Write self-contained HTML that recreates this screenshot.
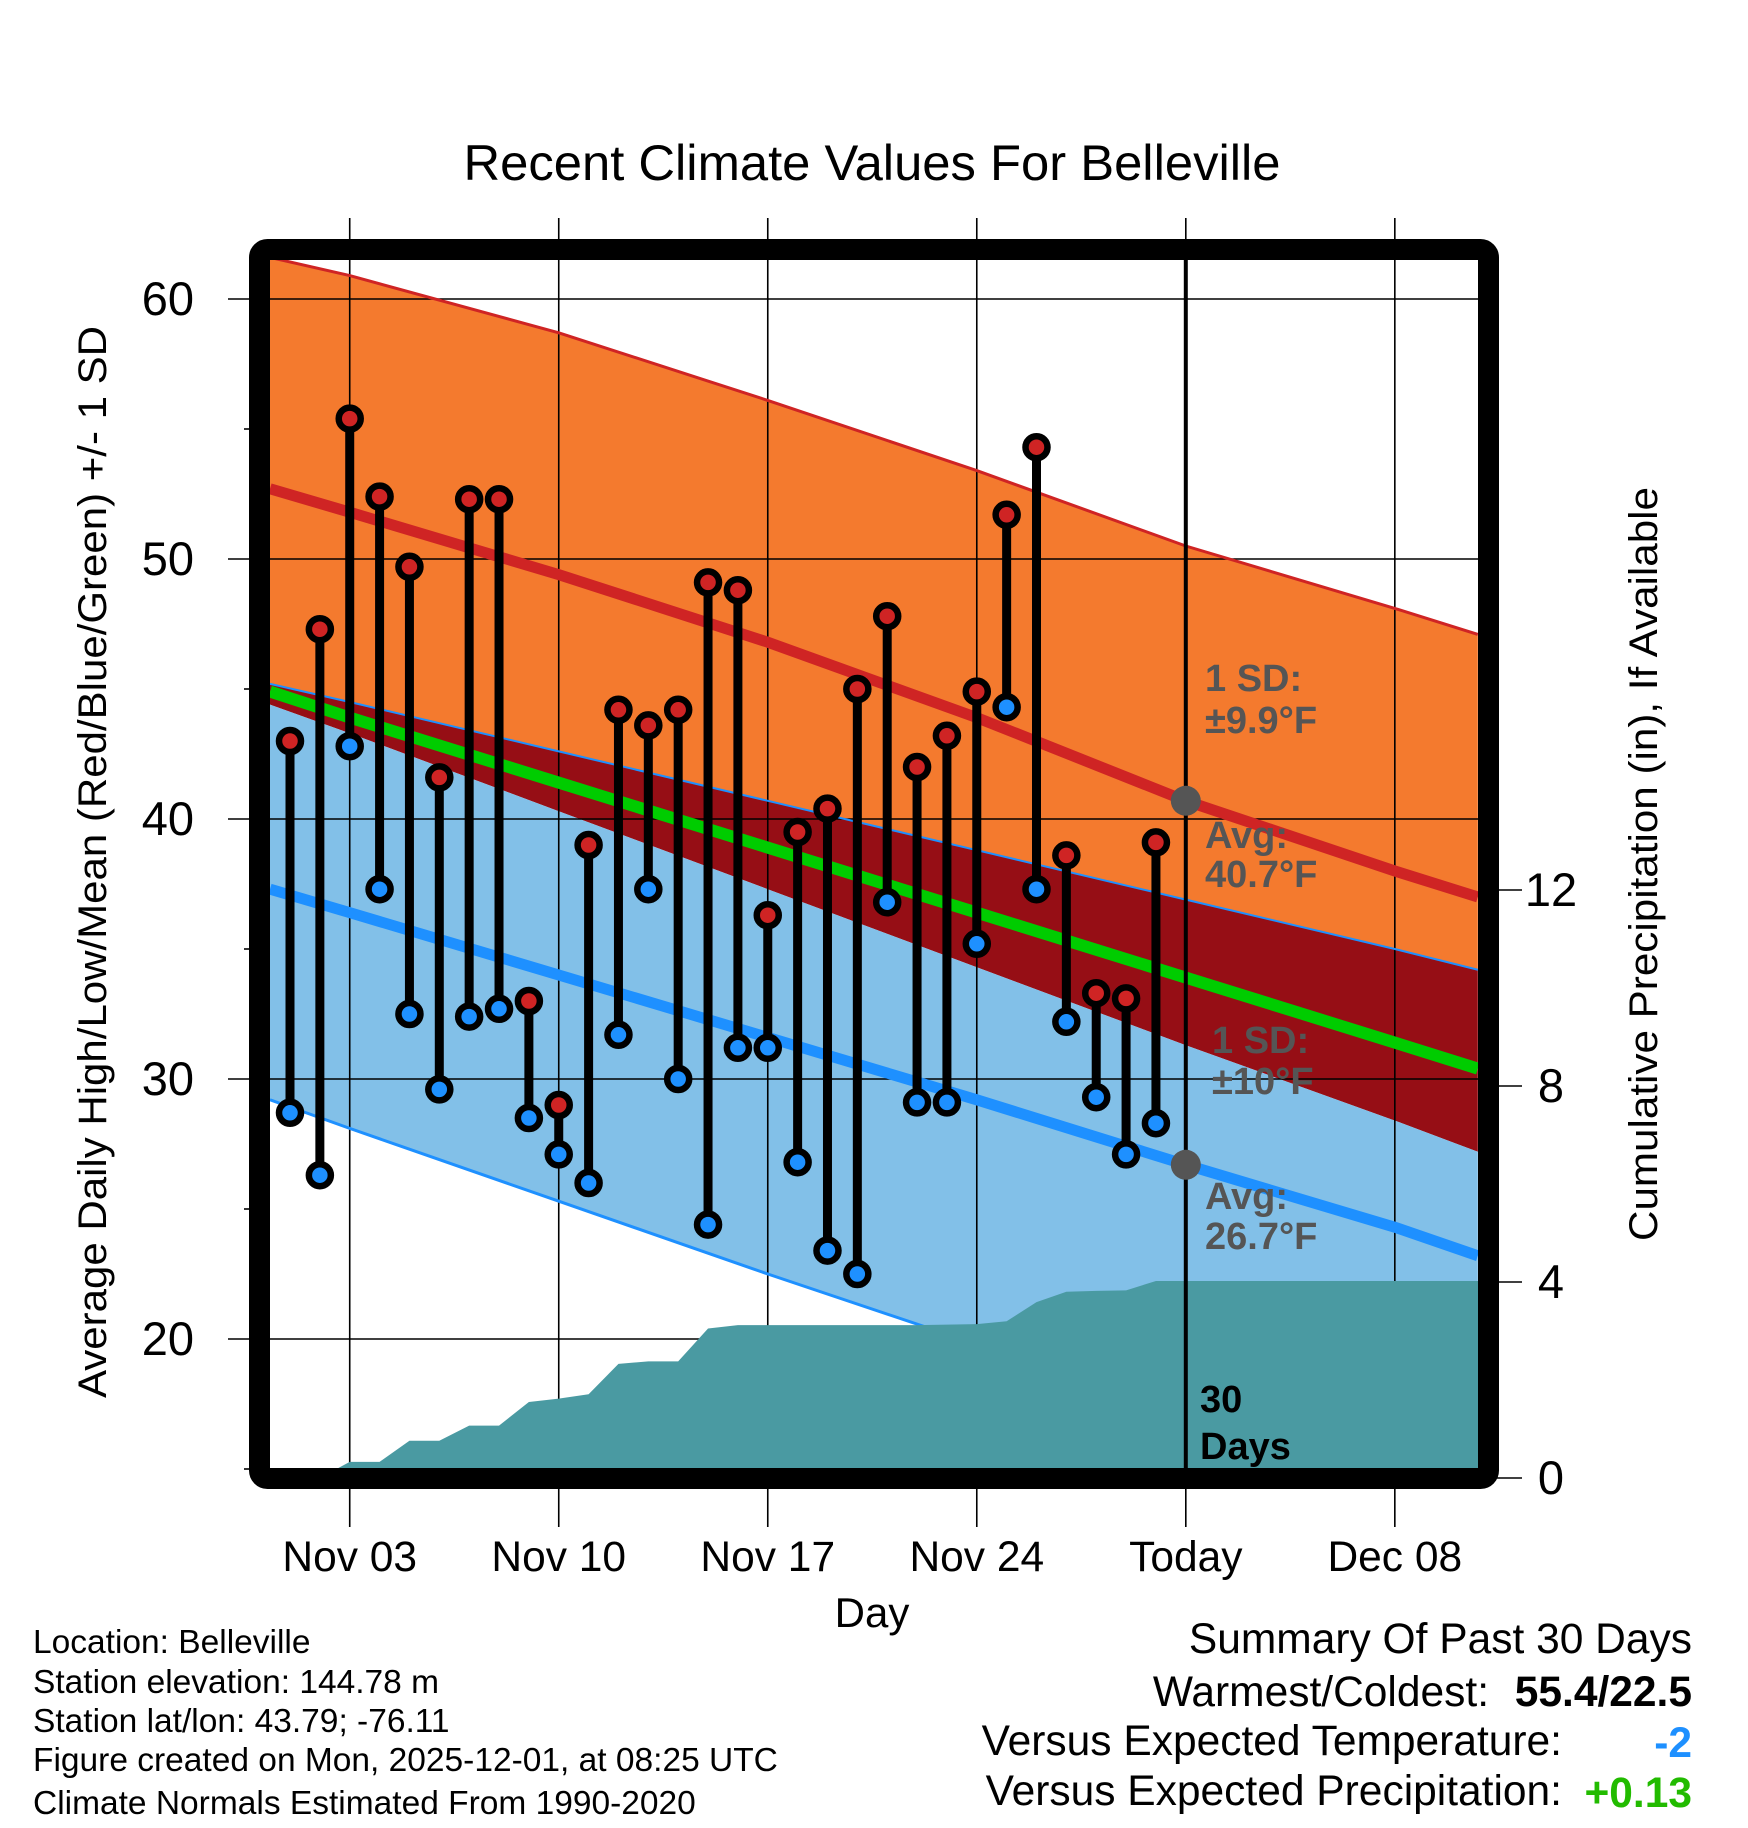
<!DOCTYPE html>
<html><head><meta charset="utf-8"><style>
html,body{margin:0;padding:0;background:#fff;}
svg{display:block;font-family:"Liberation Sans",Arial,sans-serif;}
</style></head><body>
<svg id="chart" width="1748" height="1828" viewBox="0 0 1748 1828">
<defs><clipPath id="plotclip"><rect x="270" y="260" width="1208" height="1208"/></clipPath></defs>
<g id="fills" clip-path="url(#plotclip)"></g>
<g id="grid"></g>
<g id="lines" clip-path="url(#plotclip)"></g>
<g id="precip" clip-path="url(#plotclip)"></g>
<g id="annot"></g>
<g id="stems"></g>
<rect x="259.5" y="249.5" width="1229" height="1229" rx="8" fill="none" stroke="#000" stroke-width="21"/>
<g id="axes"></g>
<text x="872" y="180" font-size="50" text-anchor="middle" textLength="817" lengthAdjust="spacingAndGlyphs">Recent Climate Values For Belleville</text>
<text transform="translate(106,862) rotate(-90)" font-size="40" text-anchor="middle" textLength="1072" lengthAdjust="spacingAndGlyphs">Average Daily High/Low/Mean (Red/Blue/Green) +/- 1 SD</text>
<text transform="translate(1657,864) rotate(-90)" font-size="40" text-anchor="middle" textLength="754" lengthAdjust="spacingAndGlyphs">Cumulative Precipitation (in), If Available</text>
<text x="872" y="1627" font-size="42" text-anchor="middle">Day</text>
<g font-size="33.5">
<text x="33" y="1653">Location: Belleville</text>
<text x="33" y="1693">Station elevation: 144.78 m</text>
<text x="33" y="1732">Station lat/lon: 43.79; -76.11</text>
<text x="33" y="1771">Figure created on Mon, 2025-12-01, at 08:25 UTC</text>
<text x="33" y="1814">Climate Normals Estimated From 1990-2020</text>
</g>
<g font-size="42.5">
<text x="1692" y="1653" text-anchor="end">Summary Of Past 30 Days</text>
<text x="1489" y="1706" text-anchor="end">Warmest/Coldest:</text>
<text x="1692" y="1706" text-anchor="end" font-weight="bold">55.4/22.5</text>
<text x="1562" y="1755" text-anchor="end">Versus Expected Temperature:</text>
<text x="1692" y="1757" text-anchor="end" font-weight="bold" fill="#1E90FF">-2</text>
<text x="1562" y="1805" text-anchor="end">Versus Expected Precipitation:</text>
<text x="1692" y="1807" text-anchor="end" font-weight="bold" fill="#22bb00">+0.13</text>
</g>
</svg>
<script>
const highs=[43.0,47.3,55.4,52.4,49.7,41.6,52.3,52.3,33.0,29.0,39.0,44.2,43.6,44.2,49.1,48.8,36.3,39.5,40.4,45.0,47.8,42.0,43.2,44.9,51.7,54.3,38.6,33.3,33.1,39.1];
const lows=[28.7,26.3,42.8,37.3,32.5,29.6,32.4,32.7,28.5,27.1,26.0,31.7,37.3,30.0,24.4,31.2,31.2,26.8,23.4,22.5,36.8,29.1,29.1,35.2,44.3,37.3,32.2,29.3,27.1,28.3];
const precip=[0,0,0.33,0.33,0.76,0.76,1.07,1.07,1.55,1.62,1.71,2.33,2.38,2.38,3.05,3.12,3.12,3.12,3.12,3.12,3.12,3.12,3.13,3.14,3.2,3.59,3.8,3.82,3.83,4.02,4.02];
const normDays=[-0.67,2,9,16,23,30,37,39.78];
const highUpper=[61.6,60.9,58.7,56.1,53.4,50.5,48.1,47.1];
const highMean=[52.7,51.8,49.4,46.8,43.9,40.7,38.0,37.0];
const highLower=[45.2,44.5,42.6,40.7,38.8,36.9,35.0,34.2];
const meanLine=[44.9,43.9,41.4,38.9,36.4,33.9,31.4,30.4];
const lowUpper=[44.4,43.3,40.3,37.3,34.3,31.3,28.4,27.2];
const lowMean=[37.3,36.4,34.0,31.6,29.2,26.7,24.3,23.2];
const lowLower=[29.2,28.1,25.3,22.5,19.8,17.0,14.2,13.1];
const xTickDays=[2,9,16,23,30,37];
const xTickLabels=["Nov 03","Nov 10","Nov 17","Nov 24","Today","Dec 08"];
const yTicks=[20,30,40,50,60];
const yMinor=[15,25,35,45,55];
const pTicks=[0,4,8,12];
const todayDay=30;

const NS="http://www.w3.org/2000/svg";
const X=d=>290+d*29.86;
const Y=t=>299+(60-t)*26;
const YP=p=>1478-p*49;
function mk(tag,attrs,parent){const e=document.createElementNS(NS,tag);for(const k in attrs)e.setAttribute(k,attrs[k]);parent.appendChild(e);return e;}
const fills=document.getElementById('fills'),grid=document.getElementById('grid'),lines=document.getElementById('lines'),pg=document.getElementById('precip'),annot=document.getElementById('annot'),stems=document.getElementById('stems'),axes=document.getElementById('axes');
function band(top,bot,color,name){
  let pts=normDays.map((d,i)=>X(d)+','+Y(top[i]));
  for(let i=normDays.length-1;i>=0;i--)pts.push(X(normDays[i])+','+Y(bot[i]));
  const p=mk('polygon',{points:pts.join(' '),fill:color},fills);
  
  
}
band(highUpper,highLower,'#F47A2E','high-sd-band');
band(highLower,lowUpper,'#960E15','overlap-band');
band(lowUpper,lowLower,'#82C0E8','low-sd-band');
xTickDays.forEach((d,i)=>{
  const l=mk('line',{x1:X(d),x2:X(d),y1:218,y2:1527,stroke:'#000','stroke-width':1.6},grid);
  
  
  const t=mk('text',{x:X(d),y:1571,'font-size':42.5,'text-anchor':'middle'},axes);
  t.textContent=xTickLabels[i];
  
  
});
yTicks.forEach(v=>{
  const l=mk('line',{x1:228,x2:1478,y1:Y(v),y2:Y(v),stroke:'#000','stroke-width':1.6},grid);
  
  
  const t=mk('text',{x:194,y:Y(v)+16,'font-size':47,'text-anchor':'end'},axes);
  t.textContent=v;
  
  
});
yMinor.forEach(v=>{
  const l=mk('line',{x1:244,x2:250,y1:Y(v),y2:Y(v),stroke:'#000','stroke-width':1.6},axes);
  
  
});
pTicks.forEach(v=>{
  const l=mk('line',{x1:1490,x2:1522,y1:YP(v),y2:YP(v),stroke:'#000','stroke-width':1.6},axes);
  
  
  const t=mk('text',{x:1551,y:YP(v)+16,'font-size':47,'text-anchor':'middle'},axes);
  t.textContent=v;
  
  
});
function line(arr,color,w,name){
  const p=mk('polyline',{points:normDays.map((d,i)=>X(d)+','+Y(arr[i])).join(' '),fill:'none',stroke:color,'stroke-width':w},lines);
  
  
}
line(highUpper,'#CF2424',3,'high-plus-sd-line');
line(highMean,'#CF2424',11,'high-mean-line');
line(highLower,'#1E90FF',2,'high-minus-sd-line');
line(meanLine,'#00CC00',12,'mean-line');
line(lowMean,'#1E90FF',11,'low-mean-line');
line(lowLower,'#1E90FF',3,'low-minus-sd-line');
{
  let pts=[X(-1)+','+YP(0)];
  precip.forEach((p,i)=>pts.push(X(i)+','+YP(p)));
  pts.push(X(41)+','+YP(precip[precip.length-1]));
  pts.push(X(41)+','+YP(0));
  const a=mk('polygon',{points:pts.join(' '),fill:'#4A9AA2'},pg);
  
  
}
{
  const l=mk('line',{x1:X(todayDay),x2:X(todayDay),y1:260,y2:1468,stroke:'#000','stroke-width':4},annot);
  
  
  [highMean,lowMean].forEach((arr,k)=>{
    const c=mk('circle',{cx:X(todayDay),cy:Y(arr[5]),r:15,fill:'#555'},annot);
    
    
  });
  const labs=[["1 SD:",1205,691,'#555'],["±9.9°F",1205,733,'#555'],["Avg:",1205,848,'#555'],["40.7°F",1205,887,'#555'],["1 SD:",1212,1053,'#555'],["±10°F",1212,1094,'#555'],["Avg:",1205,1209,'#555'],["26.7°F",1205,1249,'#555'],["30",1200,1412,'#000'],["Days",1200,1459,'#000']];
  labs.forEach(a=>{
    const t=mk('text',{x:a[1],y:a[2],'font-size':38,'font-weight':'bold',fill:a[3]},annot);
    t.textContent=a[0];
    
    
  });
}
highs.forEach((h,i)=>{
  const x=X(i),lo=lows[i];
  const s=mk('line',{x1:x,x2:x,y1:Y(h),y2:Y(lo),stroke:'#000','stroke-width':9},stems);
  
  
});
highs.forEach((h,i)=>{
  const x=X(i);
  const c1=mk('circle',{cx:x,cy:Y(h),r:11,fill:'#CF2424',stroke:'#000','stroke-width':6.5},stems);
  
  
  const c2=mk('circle',{cx:x,cy:Y(lows[i]),r:11,fill:'#1E90FF',stroke:'#000','stroke-width':6.5},stems);
  
  
});
</script>
</body></html>
